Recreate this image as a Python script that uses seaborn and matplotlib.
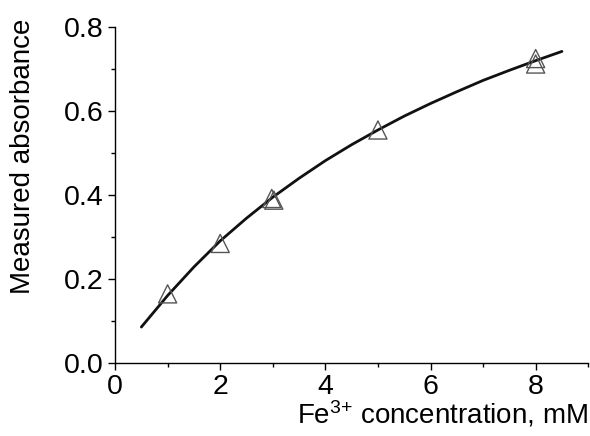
import matplotlib
matplotlib.use("Agg")
import matplotlib.pyplot as plt
import pandas as pd
import seaborn as sns
from matplotlib.ticker import MultipleLocator

# measured points (triangles)
conc_pts = [1, 2, 2.98, 3.02, 5, 8, 8]
abs_pts = [0.165, 0.285, 0.392, 0.388, 0.555, 0.725, 0.712]

# fitted curve
conc_fit = [0.5, 1, 1.5, 2, 2.5, 3, 3.5, 4, 4.5, 5, 5.5, 6, 6.5, 7, 7.5, 8, 8.5]
abs_fit = [0.086, 0.161, 0.229, 0.291, 0.345, 0.395, 0.440, 0.482, 0.520,
           0.555, 0.588, 0.618, 0.646, 0.673, 0.697, 0.720, 0.742]

pts = pd.DataFrame({'conc': conc_pts, 'abs': abs_pts})
fit = pd.DataFrame({'conc': conc_fit, 'abs': abs_fit})

sns.set_style('ticks', {'text.color': 'black', 'axes.labelcolor': 'black',
                        'xtick.color': 'black', 'ytick.color': 'black',
                        'axes.edgecolor': 'black'})
plt.rcParams['font.family'] = ['Liberation Sans', 'DejaVu Sans']
plt.rcParams['mathtext.fontset'] = 'custom'
plt.rcParams['mathtext.rm'] = 'Liberation Sans'

fig = plt.figure(figsize=(5.9, 4.36), dpi=100)
ax = fig.add_axes([0.195, 0.167, 0.802, 0.771])

sns.lineplot(x='conc', y='abs', data=fit, ax=ax, color='#111111', linewidth=2, sort=False)
sns.scatterplot(x='conc', y='abs', data=pts, ax=ax, marker='^', s=170,
                facecolor='none', edgecolor='#555555', linewidth=1, zorder=3)

ax.set_xlim(0, 9)
ax.set_ylim(0, 0.8)
ax.xaxis.set_major_locator(MultipleLocator(2))
ax.xaxis.set_minor_locator(MultipleLocator(1))
ax.yaxis.set_major_locator(MultipleLocator(0.2))
ax.yaxis.set_minor_locator(MultipleLocator(0.1))
ax.yaxis.set_major_formatter(plt.FormatStrFormatter('%.1f'))
ax.tick_params(which='major', length=5, width=1, labelsize=20.5, color='black',
               labelcolor='black', pad=3)
ax.tick_params(which='minor', length=3, width=1, color='black')
for s in ['left', 'bottom']:
    ax.spines[s].set_color('black')
    ax.spines[s].set_linewidth(1)
sns.despine(ax=ax)

ax.set_xlabel(r'Fe$\mathregular{^{3{+}}}$ concentration, mM', fontsize=20, ha='right',
              va='center', color='black')
ax.xaxis.set_label_coords(1.0, -0.152)
ax.set_ylabel('Measured absorbance', fontsize=20, va='center', color='black')
ax.yaxis.set_label_coords(-0.195, 0.616)

fig.savefig('out.png', dpi=100)
